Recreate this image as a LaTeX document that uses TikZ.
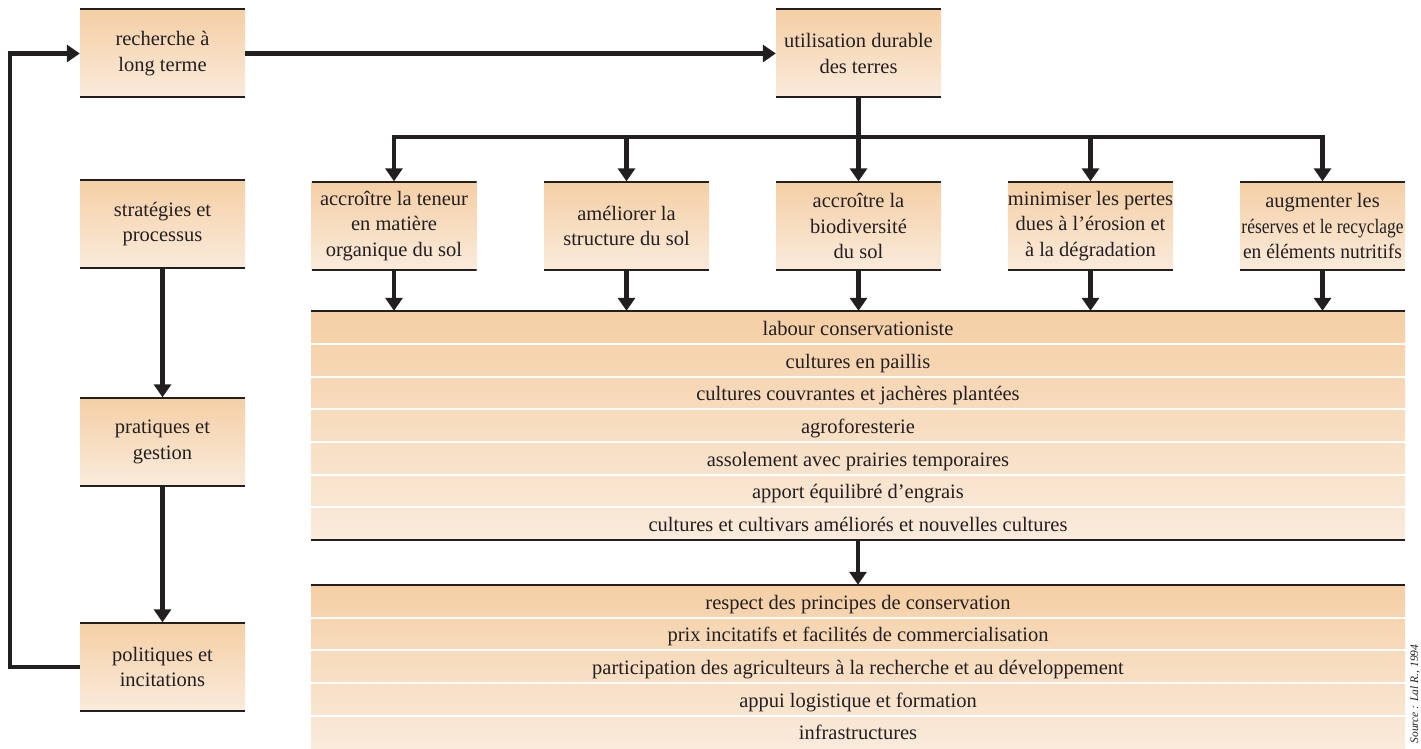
\documentclass[tikz,border=0pt]{standalone}
\usepackage{fontspec}
\setmainfont{Liberation Serif}
\usetikzlibrary{arrows.meta,calc}
\definecolor{ctop}{HTML}{F5CFA5}
\definecolor{cbot}{HTML}{FAEBDC}
\definecolor{ink}{HTML}{231F20}
\begin{document}
\begin{tikzpicture}[x=1pt,y=-1pt,
 every node/.style={font=\fontsize{20.5}{25.5}\selectfont, text=ink},
 box/.style={minimum width=165pt,minimum height=89pt,inner sep=0pt,align=center,
   top color=ctop,bottom color=cbot,draw=none,
   path picture={\draw[line width=3pt,ink] (path picture bounding box.north west)--(path picture bounding box.north east) (path picture bounding box.south west)--(path picture bounding box.south east);}},
 row/.style={minimum width=1094pt,minimum height=32.7pt,inner sep=0pt,draw=none,text height=16pt,text depth=0pt},
 arr/.style={line width=4.5pt,ink,line join=miter,-{Triangle[length=13pt,width=17pt]}},
 plain/.style={line width=4.5pt,ink,line cap=rect}]
\useasboundingbox (0,0) rectangle (1421,749);
% left column
\node[box] (rech) at (162.5,53.5) {recherche à\\long terme};
\node[box] (strat) at (162.5,224) {stratégies et\\processus};
\node[box] (prat) at (162.5,442) {pratiques et\\gestion};
\node[box] (pol) at (162.5,667) {politiques et\\incitations};
% top right
\node[box] (util) at (858.5,53.5) {utilisation durable\\des terres};
% middle boxes
\node[box] (m1) at (394,226) {accroître la teneur\\en matière\\organique du sol};
\node[box] (m2) at (626.5,226) {améliorer la\\structure du sol};
\node[box] (m3) at (858.5,226) {accroître la\\biodiversité\\du sol};
\node[box] (m4) at (1090.5,226) {minimiser les pertes\\dues à l’érosion et\\à la dégradation};
\node[box] (m5) at (1322.5,226) {augmenter les\\\scalebox{0.85}[1]{réserves et le recyclage}\\\scalebox{0.95}[1]{en éléments nutritifs}};
% table 1
\foreach \i/\t in {1/labour conservationiste,2/cultures en paillis,3/cultures couvrantes et jachères plantées,4/agroforesterie,5/assolement avec prairies temporaires,6/apport équilibré d’engrais,7/cultures et cultivars améliorés et nouvelles cultures}{
  \pgfmathtruncatemacro\pa{100*(\i-1)/7}
  \pgfmathtruncatemacro\pb{100*\i/7}
  \node[row,top color=cbot!\pa!ctop,bottom color=cbot!\pb!ctop] (t\i) at (858,{311+32.7*(\i-0.5)}) {\t};
}
\foreach \i in {1,...,6}{\draw[white,line width=2pt] (t\i.south west) -- (t\i.south east);}
\draw[ink,line width=1.5pt] (t1.north west) -- (t1.north east);
\draw[ink,line width=1.5pt] (t7.south west) -- (t7.south east);
% table 2
\foreach \i/\t in {1/respect des principes de conservation,2/prix incitatifs et facilités de commercialisation,3/participation des agriculteurs à la recherche et au développement,4/appui logistique et formation,5/infrastructures}{
  \pgfmathtruncatemacro\pa{100*(\i-1)/5}
  \pgfmathtruncatemacro\pb{100*\i/5}
  \node[row,top color=cbot!\pa!ctop,bottom color=cbot!\pb!ctop] (u\i) at (858,{585+32.6*(\i-0.5)}) {\t};
}
\foreach \i in {1,...,4}{\draw[white,line width=2pt] (u\i.south west) -- (u\i.south east);}
\draw[ink,line width=1.5pt] (u1.north west) -- (u1.north east);
% connectors
\draw[arr] (rech.east) -- (util.west);
\draw[arr] (strat.south) -- (prat.north);
\draw[arr] (prat.south) -- (pol.north);
\draw[arr] (pol.west) -- ++(-70,0) |- (rech.west);
\draw[plain] (util.south) -- ++(0,39) coordinate (fork);
\draw[plain] (fork -| m1) -- (fork -| m5);
\foreach \k in {1,...,5}{
  \draw[arr] (fork -| m\k) -- (m\k.north);
  \draw[arr] (m\k.south) -- (m\k.south |- t1.north);
}
\draw[arr] (t7.south) -- (u1.north);
\node[rotate=90,font=\fontsize{11.5}{13}\selectfont\itshape,anchor=south,inner sep=1pt] (src) at (1421,694) {Source : Lal R., 1994};
\end{tikzpicture}
\end{document}
